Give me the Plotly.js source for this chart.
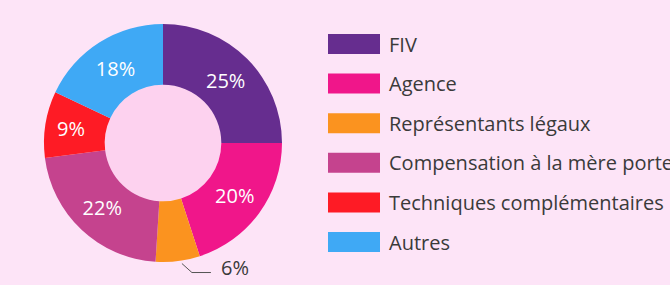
<!DOCTYPE html>
<html>
<head>
<meta charset="utf-8">
<script src="https://cdn.plot.ly/plotly-3.0.1.min.js"></script>
<style>
html,body{margin:0;padding:0;background:#fde4f7;overflow:hidden;}
#chart{width:670px;height:285px;}
</style>
</head>
<body>
<div id="chart"></div>
<script>
// Data
var categories = ["FIV", "Agence", "Représentants légaux", "Compensation à la mère porteuse", "Techniques complémentaires", "Autres"];
var values = [25, 20, 6, 22, 9, 18];
var colors = ["#662d8f", "#f0168a", "#fb931f", "#c5438e", "#fe1b25", "#3fa9f5"];
var labelPositions = ["inside", "inside", "none", "inside", "inside", "inside"];
var outsideIndex = 2; // slice whose label sits outside with a leader line

// Layout constants (pixels)
var W = 670, H = 285;
var cx = 163, cy = 143, R = 119, holeFrac = 0.49;
var bg = "#fde4f7", holeColor = "#fdd2ef";
var textColor = "#3a3a3a";
var fontFam = "'Open Sans', 'Noto Sans', sans-serif";

function px2x(x){ return x / W; }
function px2y(y){ return (H - y) / H; }

var trace = {
  type: "pie",
  labels: categories,
  values: values,
  sort: false,
  direction: "clockwise",
  rotation: 0,
  hole: holeFrac,
  marker: {colors: colors, line: {width: 0}},
  textinfo: "text",
  text: values.map(function(v){ return v + "%"; }),
  textposition: labelPositions,
  insidetextorientation: "horizontal",
  insidetextfont: {family: fontFam, size: 20, color: "#ffffff"},
  showlegend: false,
  hoverinfo: "label+percent",
  domain: {
    x: [px2x(cx - R), px2x(cx + R)],
    y: [px2y(cy + R), px2y(cy - R)]
  }
};

var shapes = [{
  type: "circle", xref: "paper", yref: "paper", layer: "below",
  x0: px2x(cx - R * holeFrac), x1: px2x(cx + R * holeFrac),
  y0: px2y(cy + R * holeFrac), y1: px2y(cy - R * holeFrac),
  fillcolor: holeColor, line: {width: 0}
}];
var annotations = [];

// Outside label with bent leader line, anchored near the slice's mid-angle
var total = values.reduce(function(a, b){ return a + b; }, 0);
var before = values.slice(0, outsideIndex).reduce(function(a, b){ return a + b; }, 0);
var midFrac = (before + values[outsideIndex] / 2) / total;
var theta = midFrac * 2 * Math.PI - 0.03; // clockwise from top
var r0 = R + 3;
var sx = cx + r0 * Math.sin(theta), sy = cy - r0 * Math.cos(theta);
var ex = sx + 10, ey = sy + 9;
var fx = ex + 19;
shapes.push({
  type: "path", xref: "paper", yref: "paper",
  path: "M" + px2x(sx) + "," + px2y(sy) + " L" + px2x(ex) + "," + px2y(ey) + " L" + px2x(fx) + "," + px2y(ey),
  line: {color: "#555555", width: 1}
});
annotations.push({
  xref: "paper", yref: "paper", x: px2x(fx + 8), y: px2y(ey - 5),
  xanchor: "left", yanchor: "middle", showarrow: false,
  text: values[outsideIndex] + "%", font: {family: fontFam, size: 20, color: textColor}
});

// Legend: wide swatches with labels
var legX0 = 328, legX1 = 380, legTextX = 387, legY0 = 44, legStep = 39.6, swH = 20;
categories.forEach(function(c, i){
  var yc = legY0 + i * legStep;
  shapes.push({
    type: "rect", xref: "paper", yref: "paper",
    x0: px2x(legX0), x1: px2x(legX1),
    y0: px2y(yc + swH / 2), y1: px2y(yc - swH / 2),
    fillcolor: colors[i], line: {width: 0}
  });
  annotations.push({
    xref: "paper", yref: "paper", x: px2x(legTextX), y: px2y(yc),
    xanchor: "left", yanchor: "middle", showarrow: false,
    text: c, font: {family: fontFam, size: 20, color: textColor}
  });
});

var layout = {
  width: W, height: H,
  margin: {l: 0, r: 0, t: 0, b: 0},
  paper_bgcolor: bg, plot_bgcolor: bg,
  shapes: shapes,
  annotations: annotations
};

Plotly.newPlot("chart", [trace], layout, {displayModeBar: false, staticPlot: true});
</script>
</body>
</html>
